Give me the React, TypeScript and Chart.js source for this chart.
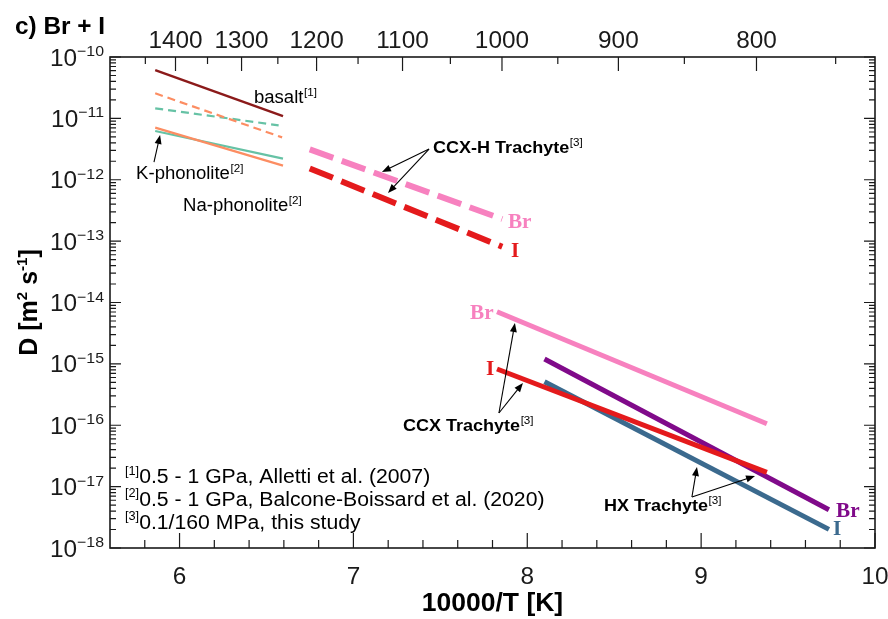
import React, { useEffect, useRef } from "react";
import { Chart, registerables } from "chart.js";

Chart.register(...registerables);

// ---- data: x = 10000/T [K], y = D [m^2 s^-1] ----
const basaltX = [5.86, 6.595];
const basaltD = [6.1e-11, 1.09e-11];
const naPhonoDashX = [5.86, 6.59];
const naPhonoDashD = [2.56e-11, 4.9e-12];
const kPhonoDashX = [5.86, 6.57];
const kPhonoDashD = [1.46e-11, 7.7e-12];
const naPhonoX = [5.86, 6.595];
const naPhonoD = [7.06e-12, 1.7e-12];
const kPhonoX = [5.86, 6.595];
const kPhonoD = [6.22e-12, 2.21e-12];
const ccxhBrX = [6.749, 7.856];
const ccxhBrD = [3.13e-12, 2.29e-13];
const ccxhIX = [6.749, 7.856];
const ccxhID = [1.53e-12, 8.1e-14];
const ccxBrX = [7.826, 9.378];
const ccxBrD = [7.08e-15, 1.06e-16];
const ccxIX = [7.826, 9.378];
const ccxID = [8.26e-16, 1.71e-17];
const hxBrX = [8.099, 9.735];
const hxBrD = [1.2e-15, 4.2e-18];
const hxIX = [8.099, 9.735];
const hxID = [5.13e-16, 2.01e-18];

// ---- ticks ----
const xMajorTicks = [6, 7, 8, 9, 10];
const xMinorTicks = [5.8, 6.2, 6.4, 6.6, 6.8, 7.2, 7.4, 7.6, 7.8, 8.2, 8.4, 8.6, 8.8, 9.2, 9.4, 9.6, 9.8];
const topTempMajor = [1400, 1300, 1200, 1100, 1000, 900, 800];
const topTempMinor = [1450, 1350, 1250, 1150, 1050, 950, 850, 750];
const yDecadeExps = [-18, -17, -16, -15, -14, -13, -12, -11, -10];
const yMinorMultipliers = [2, 3, 4, 5, 6, 7, 8, 9];

// ---- text ----
const titleText = "c) Br + I";
const xTitle = "10000/T [K]";
const footnoteRefs = ["[1]", "[2]", "[3]"];
const footnoteTexts = [
  "0.5 - 1 GPa, Alletti et al. (2007)",
  "0.5 - 1 GPa, Balcone-Boissard et al. (2020)",
  "0.1/160 MPa, this study",
];

const COLORS = {
  basalt: "#8b1a1a",
  orange: "#fc8d62",
  teal: "#66c2a5",
  pink: "#f781bf",
  red: "#e41a1c",
  purple: "#800a8a",
  blue: "#3b6a8e",
};

// annotation anchors in data space: x, log10(D)
const annotations = [
  { text: "basalt", sup: "[1]", x: 6.428, e: -10.652, bold: false },
  { text: "K-phonolite", sup: "[2]", x: 5.75, e: -11.89, bold: false },
  { text: "Na-phonolite", sup: "[2]", x: 6.02, e: -12.411, bold: false },
  { text: "CCX-H Trachyte", sup: "[3]", x: 7.458, e: -11.466, bold: true },
  { text: "CCX Trachyte", sup: "[3]", x: 7.285, e: -15.996, bold: true },
  { text: "HX Trachyte", sup: "[3]", x: 8.441, e: -17.299, bold: true },
];
const arrows = [
  { from: [5.853, -11.711], to: [5.888, -11.271] },
  { from: [7.435, -11.499], to: [7.164, -11.874] },
  { from: [7.435, -11.499], to: [7.199, -12.216] },
  { from: [7.837, -15.8], to: [7.929, -14.334] },
  { from: [7.837, -15.8], to: [7.975, -15.312] },
  { from: [8.947, -17.169], to: [8.976, -16.68] },
  { from: [8.947, -17.169], to: [9.31, -16.827] },
];
const ionLabels = [
  { text: "Br", color: COLORS.pink, x: 7.889, e: -12.672 },
  { text: "I", color: COLORS.red, x: 7.906, e: -13.145 },
  { text: "Br", color: COLORS.pink, x: 7.671, e: -14.155 },
  { text: "I", color: COLORS.red, x: 7.763, e: -15.067 },
  { text: "Br", color: COLORS.purple, x: 9.776, e: -17.381 },
  { text: "I", color: COLORS.blue, x: 9.759, e: -17.674 },
];

const SANS = "'Liberation Sans', Arial, Helvetica, sans-serif";
const SERIF = "'Liberation Serif', 'Times New Roman', serif";
const SX = 1.06;

function pts(xs: number[], ys: number[]) {
  return xs.map((x, i) => ({ x, y: ys[i] }));
}

function drawText(ctx: CanvasRenderingContext2D, s: string, x: number, y: number, font: string, color: string, align = "left", baseline: CanvasTextBaseline = "alphabetic") {
  ctx.save();
  ctx.font = font;
  ctx.fillStyle = color;
  ctx.textBaseline = baseline;
  ctx.textAlign = "left";
  const w = ctx.measureText(s).width * SX;
  const x0 = align === "left" ? x : align === "center" ? x - w / 2 : x - w;
  ctx.translate(x0, y);
  ctx.scale(SX, 1);
  ctx.fillText(s, 0, 0);
  ctx.restore();
  return w;
}

function measure(ctx: CanvasRenderingContext2D, s: string, font: string) {
  ctx.save();
  ctx.font = font;
  const w = ctx.measureText(s).width * SX;
  ctx.restore();
  return w;
}

function drawArrow(ctx: CanvasRenderingContext2D, x1: number, y1: number, x2: number, y2: number) {
  const ang = Math.atan2(y2 - y1, x2 - x1);
  const L = 9, W = 3.5;
  ctx.save();
  ctx.strokeStyle = "#000";
  ctx.fillStyle = "#000";
  ctx.lineWidth = 1.1;
  ctx.beginPath();
  ctx.moveTo(x1, y1);
  ctx.lineTo(x2 - Math.cos(ang) * L * 0.8, y2 - Math.sin(ang) * L * 0.8);
  ctx.stroke();
  ctx.beginPath();
  ctx.moveTo(x2, y2);
  ctx.lineTo(x2 - Math.cos(ang) * L - Math.sin(ang) * W, y2 - Math.sin(ang) * L + Math.cos(ang) * W);
  ctx.lineTo(x2 - Math.cos(ang) * L + Math.sin(ang) * W, y2 - Math.sin(ang) * L - Math.cos(ang) * W);
  ctx.closePath();
  ctx.fill();
  ctx.restore();
}

const decorPlugin = {
  id: "decor",
  afterDraw(chart: any) {
    const ctx: CanvasRenderingContext2D = chart.ctx;
    const xs = chart.scales.x;
    const xt = chart.scales.xTop;
    const ys = chart.scales.y;
    const { left, right, top, bottom } = chart.chartArea;
    const ink = "#1a1a1a";

    // frame
    ctx.save();
    ctx.strokeStyle = ink;
    ctx.lineWidth = 1.6;
    ctx.strokeRect(left, top, right - left, bottom - top);

    // ticks
    ctx.lineWidth = 1.2;
    ctx.beginPath();
    xMajorTicks.forEach((v) => {
      const p = xs.getPixelForValue(v);
      ctx.moveTo(p, bottom); ctx.lineTo(p, bottom - 15);
    });
    xMinorTicks.forEach((v) => {
      const p = xs.getPixelForValue(v);
      ctx.moveTo(p, bottom); ctx.lineTo(p, bottom - 8);
    });
    topTempMajor.forEach((t) => {
      const p = xt.getPixelForValue(10000 / (t + 273.15));
      ctx.moveTo(p, top); ctx.lineTo(p, top + 14);
    });
    topTempMinor.forEach((t) => {
      const p = xt.getPixelForValue(10000 / (t + 273.15));
      ctx.moveTo(p, top); ctx.lineTo(p, top + 7);
    });
    yDecadeExps.forEach((e) => {
      const p = ys.getPixelForValue(Math.pow(10, e));
      ctx.moveTo(left, p); ctx.lineTo(left + 11, p);
      ctx.moveTo(right, p); ctx.lineTo(right - 11, p);
      if (e < -10) {
        yMinorMultipliers.forEach((m) => {
          const q = ys.getPixelForValue(m * Math.pow(10, e));
          ctx.moveTo(left, q); ctx.lineTo(left + 6, q);
          ctx.moveTo(right, q); ctx.lineTo(right - 6, q);
        });
      }
    });
    ctx.stroke();
    ctx.restore();

    const tickFont = `23px ${SANS}`;
    // bottom labels
    xMajorTicks.forEach((v) => {
      drawText(ctx, String(v), xs.getPixelForValue(v), bottom + 30, tickFont, ink, "center", "middle");
    });
    // top labels
    topTempMajor.forEach((t) => {
      drawText(ctx, String(t), xt.getPixelForValue(10000 / (t + 273.15)), top - 15, tickFont, ink, "center", "middle");
    });
    // y labels 10^e
    yDecadeExps.forEach((e) => {
      const p = ys.getPixelForValue(Math.pow(10, e));
      const expStr = "\u2212" + String(-e);
      const expFont = `15px ${SANS}`;
      const we = measure(ctx, expStr, expFont);
      const rx = left - 6;
      drawText(ctx, expStr, rx, p - 1, expFont, ink, "right", "alphabetic");
      drawText(ctx, "10", rx - we, p + 8.5, tickFont, ink, "right", "alphabetic");
    });

    // titles
    drawText(ctx, titleText, 15, 34, `bold 23px ${SANS}`, "#000", "left", "alphabetic");
    drawText(ctx, xTitle, (left + right) / 2, 604, `bold 25px ${SANS}`, "#000", "center", "middle");

    // y title rotated: D [m^2 s^-1]
    ctx.save();
    ctx.translate(37, (top + bottom) / 2);
    ctx.rotate(-Math.PI / 2);
    ctx.fillStyle = "#000";
    ctx.textBaseline = "alphabetic";
    ctx.textAlign = "left";
    const mainF = `bold 25px ${SANS}`;
    const supF = `bold 15px ${SANS}`;
    const segs: [string, string, number][] = [
      ["D [m", mainF, 0],
      ["2", supF, -10],
      [" s", mainF, 0],
      ["-1", supF, -10],
      ["]", mainF, 0],
    ];
    let total = 0;
    segs.forEach(([s, f]) => { ctx.font = f; total += ctx.measureText(s).width; });
    let cx = -total / 2;
    segs.forEach(([s, f, dy]) => {
      ctx.font = f;
      ctx.fillText(s, cx, dy);
      cx += ctx.measureText(s).width;
    });
    ctx.restore();

    // annotations
    annotations.forEach((a) => {
      const px = xs.getPixelForValue(a.x);
      const py = ys.getPixelForValue(Math.pow(10, a.e));
      const f = a.bold ? `bold 17px ${SANS}` : `17.5px ${SANS}`;
      const w = drawText(ctx, a.text, px, py + 6, f, "#000", "left", "alphabetic");
      drawText(ctx, a.sup, px + w + 0.5, py - 1, `11px ${SANS}`, "#000", "left", "alphabetic");
    });
    arrows.forEach((a) => {
      drawArrow(
        ctx,
        xs.getPixelForValue(a.from[0]), ys.getPixelForValue(Math.pow(10, a.from[1])),
        xs.getPixelForValue(a.to[0]), ys.getPixelForValue(Math.pow(10, a.to[1]))
      );
    });
    ionLabels.forEach((l) => {
      const px = xs.getPixelForValue(l.x);
      const py = ys.getPixelForValue(Math.pow(10, l.e));
      drawText(ctx, l.text, px, py + 7, `bold 20px ${SERIF}`, l.color, "left", "alphabetic");
    });

    // footnotes
    const fnY = [-16.827, -17.2, -17.575];
    footnoteTexts.forEach((t, i) => {
      const py = ys.getPixelForValue(Math.pow(10, fnY[i]));
      const px = left + 15;
      const w = drawText(ctx, footnoteRefs[i], px, py - 1.5, `12px ${SANS}`, "#000", "left", "alphabetic");
      drawText(ctx, t, px + w, py + 7, `20px ${SANS}`, "#000", "left", "alphabetic");
    });
  },
};

export default function App() {
  const ref = useRef<HTMLCanvasElement>(null);
  useEffect(() => {
    if (!ref.current) return;
    const line = (label: string, xs: number[], ys: number[], color: string, width: number, dash: number[] = []) => ({
      label,
      data: pts(xs, ys),
      borderColor: color,
      backgroundColor: color,
      borderWidth: width,
      borderDash: dash,
      showLine: true,
      pointRadius: 0,
      fill: false,
      borderCapStyle: "butt" as const,
    });
    const chart = new Chart(ref.current, {
      type: "scatter",
      data: {
        datasets: [
          line("basalt", basaltX, basaltD, COLORS.basalt, 2.5),
          line("Na-phonolite (dashed)", naPhonoDashX, naPhonoDashD, COLORS.orange, 2.2, [8, 5]),
          line("K-phonolite (dashed)", kPhonoDashX, kPhonoDashD, COLORS.teal, 2.2, [8, 5]),
          line("Na-phonolite", naPhonoX, naPhonoD, COLORS.orange, 2.2),
          line("K-phonolite", kPhonoX, kPhonoD, COLORS.teal, 2.2),
          line("CCX-H Br", ccxhBrX, ccxhBrD, COLORS.pink, 6, [25, 9]),
          line("CCX-H I", ccxhIX, ccxhID, COLORS.red, 6, [25, 9]),
          line("CCX Br", ccxBrX, ccxBrD, COLORS.pink, 5),
          line("CCX I", ccxIX, ccxID, COLORS.red, 5),
          line("HX Br", hxBrX, hxBrD, COLORS.purple, 5),
          line("HX I", hxIX, hxID, COLORS.blue, 5),
        ],
      },
      options: {
        responsive: false,
        animation: false,
        layout: { padding: { left: 110, right: 13, top: 57, bottom: 71 } },
        plugins: { legend: { display: false }, tooltip: { enabled: false } },
        scales: {
          x: { type: "linear", min: 5.6, max: 10, display: false },
          xTop: { type: "linear", position: "top", min: 5.6, max: 10, display: false },
          y: { type: "logarithmic", min: 1e-18, max: 1e-10, display: false },
        },
      },
      plugins: [decorPlugin],
    });
    return () => chart.destroy();
  }, []);
  return (
    <div style={{ position: "fixed", left: 0, top: 0, width: 888, height: 619, background: "#fff" }}>
      <canvas ref={ref} width={888} height={619} style={{ display: "block" }} />
    </div>
  );
}
